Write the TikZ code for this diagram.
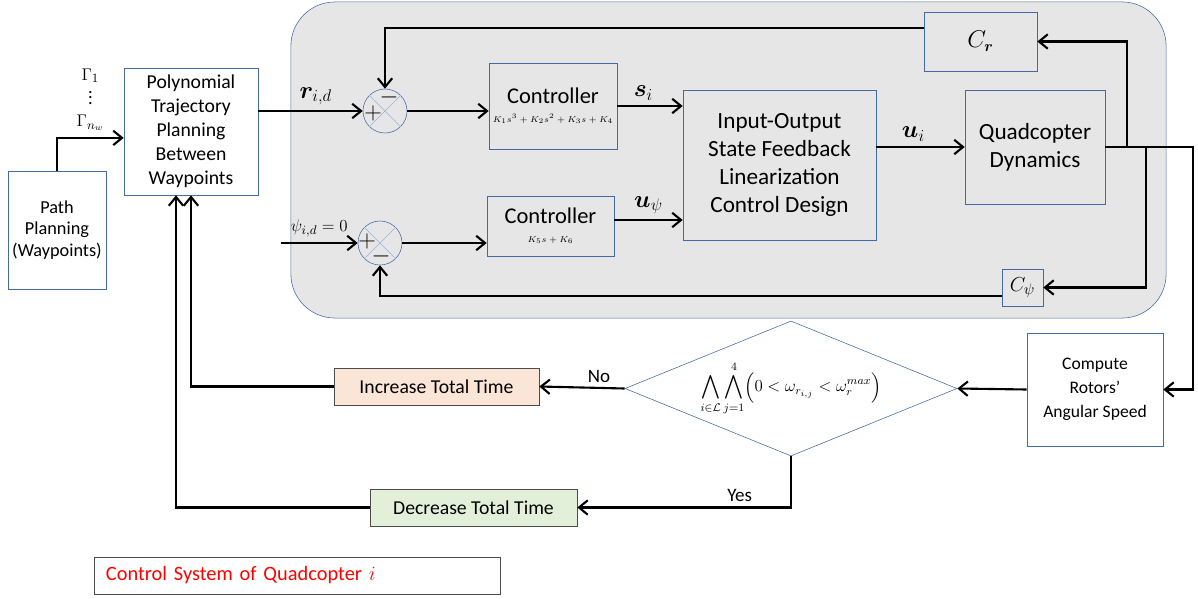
\documentclass[tikz,border=0pt]{standalone}
\usepackage{fontspec}
\setmainfont{Carlito}
\usepackage{amsmath,bm}
\definecolor{boxblue}{RGB}{68,106,166}
\definecolor{panelgray}{RGB}{231,230,230}
\definecolor{incfill}{RGB}{251,229,214}
\definecolor{decfill}{RGB}{226,240,217}
\definecolor{crossblue}{RGB}{150,180,222}
\usetikzlibrary{arrows.meta, positioning, shapes.geometric}
\tikzset{
    block/.style={
           rectangle,
           draw=boxblue, thin,
           align=center,
           inner sep=2pt,
           text centered,
           },
    panel/.style={
           rectangle,
           rounded corners=1.1cm,
           draw=boxblue, thin,
           fill=panelgray,
           },
    decision/.style={
           diamond,
           draw=boxblue, thin,
           fill=white,
           shape aspect=2.46,
           inner sep=0pt,
           },
    sumjunc/.style={circle, draw=boxblue, thin, minimum size=1.1cm, inner sep=0pt},
    sig/.style={line width=1.5pt, ->},
}
\newcommand{\gains}[1]{{\fontsize{5.6}{6.5}\selectfont$#1$}}

\begin{document}
\begin{tikzpicture}[x=0.025cm, y=-0.025cm, >={Straight Barb[length=2.2mm,width=3.6mm]},
    font=\fontsize{14}{17}\selectfont]
  \useasboundingbox (0,0) rectangle (1198,599);
  \node[panel, minimum width=21.875cm, minimum height=7.9cm] (loop) at (728.5,160) {};
  \node[block, font=\fontsize{13}{15.5}\selectfont, minimum width=2.45cm, minimum height=2.95cm]  (path) at (57,230) {Path\\Planning\\(Waypoints)};
  \node[block, minimum width=3.35cm, minimum height=3.175cm] (poly) at (191,131.5)  {Polynomial\\Trajectory\\Planning\\Between\\Waypoints};
  \node[sumjunc]                                             (s1)   at (385,111)    {};
  \node[sumjunc]                                             (s2)   at (380,243)    {};
  \node[block, font=\fontsize{16}{19}\selectfont, minimum width=3.2cm, minimum height=2.15cm]   (ctrl1) at (553,106)   {Controller\\[-6pt]\gains{K_1s^3+K_2s^2+K_3s+K_4}};
  \node[block, font=\fontsize{16}{19}\selectfont, minimum width=3.175cm, minimum height=1.5cm]  (ctrl2) at (550.5,226) {Controller\\[-6pt]\gains{K_5s+K_6}};
  \node[block, font=\fontsize{16.5}{20}\selectfont, minimum width=4.825cm, minimum height=3.75cm] (io)   at (779.5,165)  {Input-Output\\State Feedback\\Linearization\\Control Design};
  \node[block, font=\fontsize{16.5}{20}\selectfont, minimum width=3.5cm, minimum height=2.85cm]   (qd)   at (1035,147)   {Quadcopter\\Dynamics};
  \node[block, font=\fontsize{16}{19}\selectfont, minimum width=2.825cm, minimum height=1.475cm] (cr)  at (980.5,41.5) {$C_{\bm r}$};
  \node[block, font=\fontsize{15}{18}\selectfont, minimum width=1.025cm, minimum height=0.925cm] (cpsi) at (1022.5,287.5) {$C_\psi$};
  \node[block, font=\fontsize{12.5}{17}\selectfont, fill=white, minimum width=3.4cm, minimum height=2.825cm] (rot) at (1095,389.5) {Compute\\Rotors’\\Angular Speed};
  \node[decision, minimum width=8.3cm, minimum height=3.375cm] (dia) at (791,388.5)
       {\fontsize{12}{14}\selectfont$\displaystyle\bigwedge_{i\in\mathcal{L}}\bigwedge_{j=1}^{4}\Bigl(0<\omega_{r_{i,j}}<\omega_r^{max}\Bigr)$};
  \node[block, font=\fontsize{14}{16}\selectfont, draw=black!70, fill=incfill, minimum width=5.125cm, minimum height=0.925cm] (inc) at (436.5,386.5) {Increase Total Time};
  \node[block, font=\fontsize{14}{16}\selectfont, draw=black!70, fill=decfill, minimum width=5.175cm, minimum height=0.925cm] (dec) at (473.5,507.5) {Decrease Total Time};
  \node[block, font=\fontsize{14.5}{16}\selectfont, draw=black!70, text=red, inner xsep=0.3cm, text width=9.55cm, align=left, minimum height=0.925cm] (sys) at (297,575.5) {Control System of Quadcopter $i$};
  % summing junctions
  \draw[crossblue, thin] (s1.north west) -- (s1.south east) (s1.north east) -- (s1.south west);
  \draw[crossblue, thin] (s2.north west) -- (s2.south east) (s2.north east) -- (s2.south west);
  \node[font=\fontsize{17}{20}\selectfont] at (373,113) {$+$};
  \node[font=\fontsize{17}{20}\selectfont] at (389,97)  {$-$};
  \node[font=\fontsize{17}{20}\selectfont] at (367,241) {$+$};
  \node[font=\fontsize{17}{20}\selectfont] at (381,256) {$-$};
  \coordinate (psin) at (281,243);
  \coordinate (b1) at (1127,147);
  \coordinate (b2) at (1146,147);
  \coordinate (b3) at (1193,147);
  \draw[sig] (path.north) |- node[pos=.75, above=1pt, align=center, font=\fontsize{13}{15}\selectfont]{$\Gamma_1$\\[-1pt]$\vdots$\\[1pt]$\Gamma_{n_w}$} ([yshift=-0.16cm]poly.west);
  \draw[sig] (poly.east |- s1.west) -- node[above, pos=.55, font=\fontsize{16.5}{20}\selectfont]{$\bm r_{i,d}$} (s1.west);
  \draw[sig] (psin) -- node[above, pos=.5, font=\fontsize{13}{15}\selectfont]{$\psi_{i,d}=0$} (s2.west);
  \draw[sig] (s1.east) -- (s1.east -| ctrl1.west);
  \draw[sig] (s2.east) -- (s2.east -| ctrl2.west);
  \draw[sig] (ctrl1.east) -- node[above, pos=.4, font=\fontsize{16.5}{20}\selectfont]{$\bm s_i$} (ctrl1.east -| io.west);
  \draw[sig] ([yshift=0.15cm]ctrl2.east) -- node[above, pos=.5, font=\fontsize{16.5}{20}\selectfont]{$\bm u_\psi$} ([yshift=0.15cm]ctrl2.east -| io.west);
  \draw[sig] (qd.west -| io.east) -- node[above, pos=.42, font=\fontsize{16.5}{20}\selectfont]{$\bm u_i$} (qd.west);
  \draw[sig] (qd.east) -- (b3) |- (rot.east);
  \draw[sig] (b1) |- (cr.east);
  \draw[sig] (b2) |- (cpsi.east);
  \draw[sig] ([yshift=0.34cm]cr.west) -| (s1.north);
  \draw[sig] ([yshift=-0.21cm]cpsi.west) -| (s2.south);
  \draw[sig] (rot.west) -- (dia.east);
  \draw[sig] (dia.west) -- node[above, pos=.3, font=\fontsize{13.5}{16}\selectfont]{No} (inc.east);
  \draw[sig] (dia.south) |- node[above, pos=.62, font=\fontsize{13.5}{16}\selectfont]{Yes} (dec.east);
  \draw[sig] (inc.west) -| (poly.south);
  \draw[sig] (dec.west) -| ([xshift=-0.375cm]poly.south);
\end{tikzpicture}
\end{document}
